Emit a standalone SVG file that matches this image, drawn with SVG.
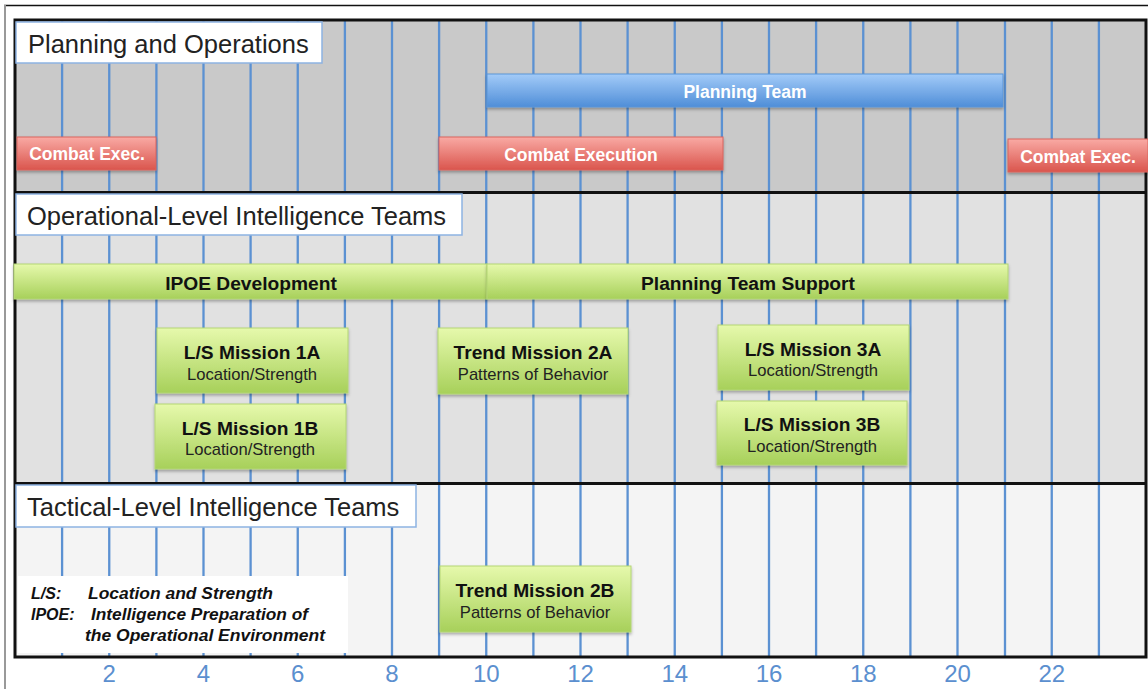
<svg xmlns="http://www.w3.org/2000/svg" width="1148" height="689" viewBox="0 0 1148 689">
  <defs>
    <linearGradient id="gBlue" x1="0" y1="0" x2="0" y2="1">
      <stop offset="0" stop-color="#a3cbf8"/>
      <stop offset="1" stop-color="#4f8ed8"/>
    </linearGradient>
    <linearGradient id="gRed" x1="0" y1="0" x2="0" y2="1">
      <stop offset="0" stop-color="#f9aaa4"/>
      <stop offset="1" stop-color="#da554d"/>
    </linearGradient>
    <linearGradient id="gGreen" x1="0" y1="0" x2="0" y2="1">
      <stop offset="0" stop-color="#e6f9ac"/>
      <stop offset="1" stop-color="#a7d05a"/>
    </linearGradient>
    <filter id="shadow" x="-5%" y="-20%" width="110%" height="150%">
      <feDropShadow dx="0" dy="2" stdDeviation="1.5" flood-color="#000" flood-opacity="0.3"/>
    </filter>
    <style>
      .grid line { stroke: #5b91d2; stroke-width: 2.3; }
      .frame { fill: none; stroke: #111; stroke-width: 3; }
      .divider { stroke: #111; stroke-width: 3; }
      .hdr rect { fill: #fff; stroke: #8db3e2; stroke-width: 1.5; }
      .hdr text { font-family: "Liberation Sans", Arial, sans-serif; font-size: 25.5px; fill: #222; }
      .blue { fill: url(#gBlue); stroke: #5b95d8; stroke-width: 1; filter: url(#shadow); }
      .red { fill: url(#gRed); stroke: #d9645c; stroke-width: 1; filter: url(#shadow); }
      .green { fill: url(#gGreen); stroke: #b3d675; stroke-width: 1; filter: url(#shadow); }
      .barw { font-family: "Liberation Sans", Arial, sans-serif; font-weight: bold; font-size: 17.5px; fill: #fff; text-anchor: middle; }
      .barb { font-family: "Liberation Sans", Arial, sans-serif; font-weight: bold; font-size: 19.2px; fill: #111; text-anchor: middle; }
      .sub { font-family: "Liberation Sans", Arial, sans-serif; font-size: 16.6px; fill: #222; text-anchor: middle; }
      .legend { font-family: "Liberation Sans", Arial, sans-serif; font-weight: bold; font-style: italic; font-size: 16px; fill: #111; }
      .axis { font-family: "Liberation Sans", Arial, sans-serif; font-size: 24px; fill: #5b8fcf; text-anchor: middle; }
    </style>
  </defs>

  <rect width="1148" height="689" fill="#fff"/>
  <!-- outer page edge -->
  <line x1="4" y1="5.5" x2="1148" y2="5.5" stroke="#111" stroke-width="1.5"/>
  <line x1="5" y1="5" x2="5" y2="689" stroke="#999" stroke-width="2"/>

  <!-- swimlane backgrounds -->
  <g id="lanes">
    <rect x="15" y="20" width="1131" height="172" fill="#c9c9c9"/>
    <rect x="15" y="192" width="1131" height="291" fill="#e1e1e1"/>
    <rect x="15" y="483" width="1131" height="174" fill="#f4f4f4"/>
  </g>

  <!-- time grid: x = 15 + 47.125 * n -->
  <g id="grid" class="grid">
    <line x1="62.1" y1="20" x2="62.1" y2="657"/>
    <line x1="109.25" y1="20" x2="109.25" y2="657"/>
    <line x1="156.4" y1="20" x2="156.4" y2="657"/>
    <line x1="203.5" y1="20" x2="203.5" y2="657"/>
    <line x1="250.6" y1="20" x2="250.6" y2="657"/>
    <line x1="297.75" y1="20" x2="297.75" y2="657"/>
    <line x1="344.9" y1="20" x2="344.9" y2="657"/>
    <line x1="392" y1="20" x2="392" y2="657"/>
    <line x1="439.1" y1="20" x2="439.1" y2="657"/>
    <line x1="486.25" y1="20" x2="486.25" y2="657"/>
    <line x1="533.4" y1="20" x2="533.4" y2="657"/>
    <line x1="580.5" y1="20" x2="580.5" y2="657"/>
    <line x1="627.6" y1="20" x2="627.6" y2="657"/>
    <line x1="674.75" y1="20" x2="674.75" y2="657"/>
    <line x1="721.9" y1="20" x2="721.9" y2="657"/>
    <line x1="769" y1="20" x2="769" y2="657"/>
    <line x1="816.1" y1="20" x2="816.1" y2="657"/>
    <line x1="863.25" y1="20" x2="863.25" y2="657"/>
    <line x1="910.4" y1="20" x2="910.4" y2="657"/>
    <line x1="957.5" y1="20" x2="957.5" y2="657"/>
    <line x1="1005" y1="20" x2="1005" y2="657"/>
    <line x1="1051.75" y1="20" x2="1051.75" y2="657"/>
    <line x1="1098.9" y1="20" x2="1098.9" y2="657"/>
  </g>

  <!-- lane borders -->
  <g id="frame">
    <line class="divider" x1="15" y1="192.5" x2="1146" y2="192.5"/>
    <line class="divider" x1="15" y1="483.5" x2="1146" y2="483.5"/>
    <rect class="frame" x="15" y="20" width="1131" height="637"/>
  </g>

  <!-- lane headers -->
  <g id="hdr-planning" class="hdr">
    <rect x="16" y="22" width="306" height="41"/>
    <text x="28" y="53">Planning and Operations</text>
  </g>
  <g id="hdr-operational" class="hdr">
    <rect x="16" y="194" width="446" height="41"/>
    <text x="27" y="225">Operational-Level Intelligence Teams</text>
  </g>
  <g id="hdr-tactical" class="hdr">
    <rect x="16" y="485" width="400" height="42"/>
    <text x="27" y="516">Tactical-Level Intelligence Teams</text>
  </g>

  <!-- planning and operations lane -->
  <g id="planning-team">
    <rect class="blue" x="487" y="74" width="516" height="33"/>
    <text class="barw" x="745" y="98" font-size="20">Planning Team</text>
  </g>
  <g id="combat-exec-1">
    <rect class="red" x="17" y="137" width="139" height="33"/>
    <text class="barw" x="87" y="160">Combat Exec.</text>
  </g>
  <g id="combat-execution">
    <rect class="red" x="439" y="137" width="284" height="33"/>
    <text class="barw" x="581" y="161">Combat Execution</text>
  </g>
  <g id="combat-exec-2">
    <rect class="red" x="1008" y="139" width="140" height="33"/>
    <text class="barw" x="1078" y="163">Combat Exec.</text>
  </g>

  <!-- operational-level lane -->
  <g id="ipoe-development">
    <rect class="green" x="14" y="264" width="473" height="35"/>
    <text class="barb" x="251" y="290">IPOE Development</text>
  </g>
  <g id="planning-team-support">
    <rect class="green" x="487" y="264" width="521" height="35"/>
    <text class="barb" x="748" y="290">Planning Team Support</text>
  </g>
  <g id="ls-mission-1a">
    <rect class="green" x="157" y="328" width="191" height="65"/>
    <text class="barb" x="252" y="359">L/S Mission 1A</text>
    <text class="sub" x="252" y="380">Location/Strength</text>
  </g>
  <g id="ls-mission-1b">
    <rect class="green" x="155" y="404" width="191" height="65"/>
    <text class="barb" x="250" y="435">L/S Mission 1B</text>
    <text class="sub" x="250" y="455">Location/Strength</text>
  </g>
  <g id="trend-mission-2a">
    <rect class="green" x="438" y="328" width="190" height="66"/>
    <text class="barb" x="533" y="359">Trend Mission 2A</text>
    <text class="sub" x="533" y="380">Patterns of Behavior</text>
  </g>
  <g id="ls-mission-3a">
    <rect class="green" x="718" y="325" width="191" height="65"/>
    <text class="barb" x="813" y="356">L/S Mission 3A</text>
    <text class="sub" x="813" y="376">Location/Strength</text>
  </g>
  <g id="ls-mission-3b">
    <rect class="green" x="717" y="401" width="190" height="64"/>
    <text class="barb" x="812" y="431">L/S Mission 3B</text>
    <text class="sub" x="812" y="452">Location/Strength</text>
  </g>

  <!-- tactical-level lane -->
  <g id="trend-mission-2b">
    <rect class="green" x="440" y="566" width="191" height="66"/>
    <text class="barb" x="535" y="597">Trend Mission 2B</text>
    <text class="sub" x="535" y="618">Patterns of Behavior</text>
  </g>

  <!-- abbreviations -->
  <g id="legend">
    <rect x="18" y="576" width="330" height="77" fill="#fff"/>
    <text class="legend" x="31" y="599">L/S:</text>
    <text class="legend" x="88" y="599" textLength="185" lengthAdjust="spacingAndGlyphs">Location and Strength</text>
    <text class="legend" x="31" y="620">IPOE:</text>
    <text class="legend" x="91" y="620" textLength="217" lengthAdjust="spacingAndGlyphs">Intelligence Preparation of</text>
    <text class="legend" x="85" y="641" textLength="240" lengthAdjust="spacingAndGlyphs">the Operational Environment</text>
  </g>

  <!-- time axis -->
  <g id="axis" class="axis">
    <text x="109.25" y="682">2</text>
    <text x="203.5" y="682">4</text>
    <text x="297.75" y="682">6</text>
    <text x="392" y="682">8</text>
    <text x="486.25" y="682">10</text>
    <text x="580.5" y="682">12</text>
    <text x="674.75" y="682">14</text>
    <text x="769" y="682">16</text>
    <text x="863.25" y="682">18</text>
    <text x="957.5" y="682">20</text>
    <text x="1051.75" y="682">22</text>
  </g>
</svg>
